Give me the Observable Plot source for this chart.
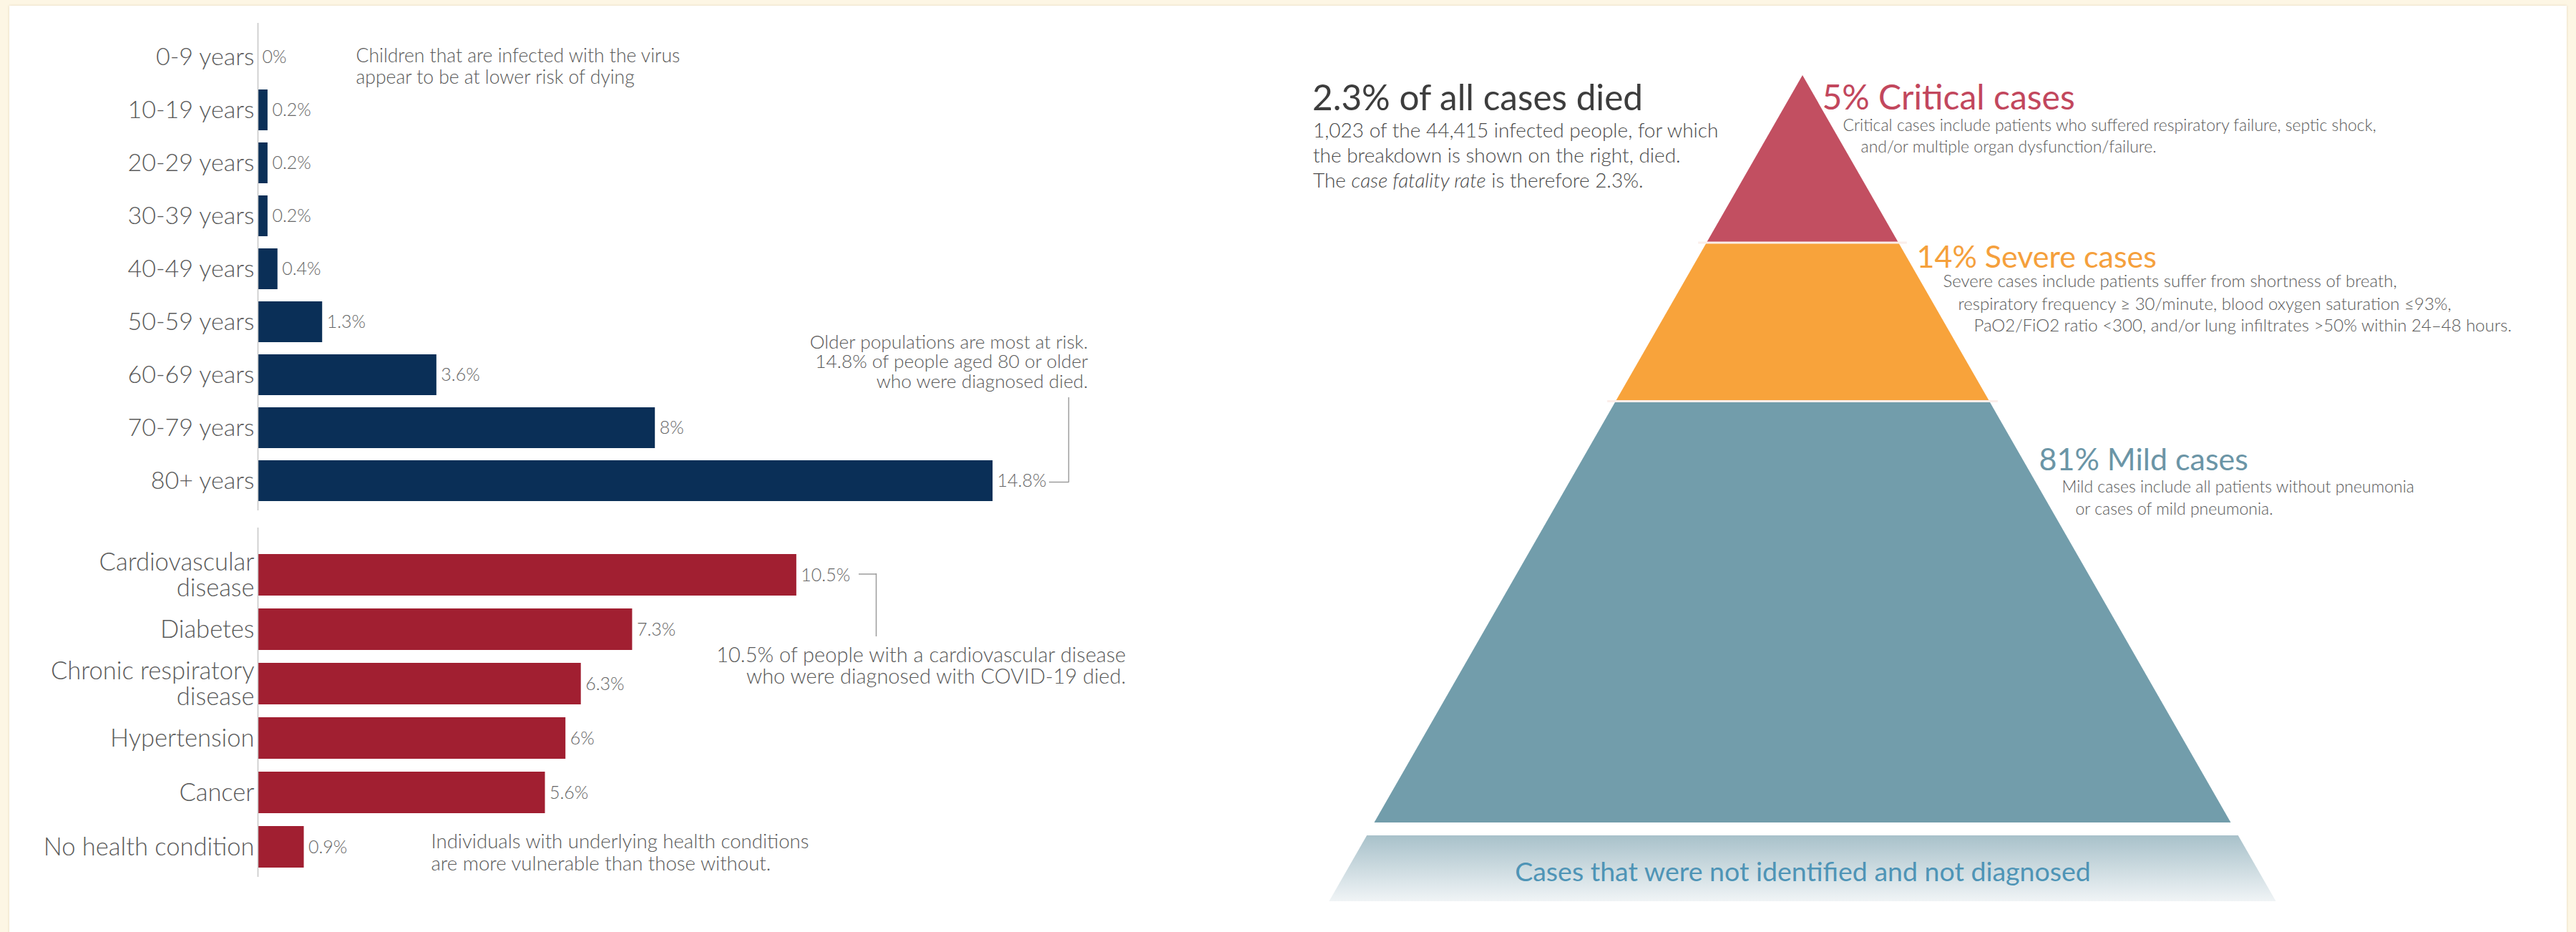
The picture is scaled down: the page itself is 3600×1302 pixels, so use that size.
<!DOCTYPE html>
<html>
<head>
<meta charset="utf-8">
<script src="https://cdn.jsdelivr.net/npm/d3@7"></script>
<script src="https://cdn.jsdelivr.net/npm/@observablehq/plot@0.6"></script>
<style>
html, body { margin: 0; padding: 0; }
body { width: 3600px; height: 1302px; background: #fdf6e4; position: relative; overflow: hidden; font-family: Lato, "Open Sans", sans-serif; }
#panel { position: absolute; left: 13px; top: 8px; width: 3574px; height: 1320px; background: #ffffff; box-shadow: 0 0 3px rgba(150,120,60,0.25); }
.layer { position: absolute; }
.layer svg { display: block; overflow: visible; max-width: none; }
#headline { position: absolute; left: 1834px; top: 106px; font-size: 49.5px; line-height: 59.4px; color: #3d3d3d; white-space: nowrap; }
#lede { position: absolute; left: 1835px; top: 164px; font-size: 28px; line-height: 35px; color: #4a4a4a; font-weight: 300; white-space: nowrap; }
</style>
</head>
<body>
<div id="panel"></div>
<div id="ages" class="layer" style="left:0;top:0"></div>
<div id="conds" class="layer" style="left:0;top:700px"></div>
<div id="pyramid" class="layer" style="left:1800px;top:0"></div>
<div id="notes" class="layer" style="left:0;top:0"></div>
<div id="headline"></div>
<div id="lede"></div>
<script>
// ---------------- DATA ----------------
const ageGroups = ["0-9 years", "10-19 years", "20-29 years", "30-39 years", "40-49 years", "50-59 years", "60-69 years", "70-79 years", "80+ years"];
const ageFatality = [0, 0.2, 0.2, 0.2, 0.4, 1.3, 3.6, 8, 14.8];

const conditions = ["Cardiovascular disease", "Diabetes", "Chronic respiratory disease", "Hypertension", "Cancer", "No health condition"];
const conditionFatality = [10.5, 7.3, 6.3, 6, 5.6, 0.9];

const severityLevels = ["Critical", "Severe", "Mild"];
const severityShares = [5, 14, 81];
const severityNotes = [
  ["Critical cases include patients who suffered respiratory failure, septic shock,",
   "and/or multiple organ dysfunction/failure."],
  ["Severe cases include patients suffer from shortness of breath,",
   "respiratory frequency \u2265 30/minute, blood oxygen saturation \u226493%,",
   "PaO2/FiO2 ratio <300, and/or lung infiltrates >50% within 24\u201348 hours."],
  ["Mild cases include all patients without pneumonia",
   "or cases of mild pneumonia."]
];
const undiagnosedLabel = "Cases that were not identified and not diagnosed";
const totalDeaths = 1023;
const totalInfected = 44415;

const annotationTexts = [
  "Children that are infected with the virus\nappear to be at lower risk of dying",
  "Older populations are most at risk.\n14.8% of people aged 80 or older\nwho were diagnosed died.",
  "10.5% of people with a cardiovascular disease\nwho were diagnosed with COVID-19 died.",
  "Individuals with underlying health conditions\nare more vulnerable than those without."
];

// ---------------- STYLE / LAYOUT ----------------
const FONT = "Lato, 'Open Sans', sans-serif";
const labelColor = "#5a5a5a";
const valueColor = "#666666";
const noteColor = "#595959";
const ageColor = "#0a2f57";
const condColor = "#a11f31";
const tierFill = ["#c24f61", "#f8a33b", "#729dab"];
const tierText = ["#c2475d", "#f5a03c", "#6b95a6"];
const tierTitleSize = [48, 43, 43];
const tierNoteSize = [23, 24, 23];
const axisX = 360;

const noteLayout = [
  {x: 497, y: 92, anchor: "start", size: 26.5, lh: 1.13},
  {x: 1520, y: 505, anchor: "end", size: 26.3, lh: 1.05},
  {x: 1573, y: 930, anchor: "end", size: 29, lh: 1.04},
  {x: 602, y: 1190.5, anchor: "start", size: 27.6, lh: 1.12}
];
const bracketsV = [{x: 1493, y1: 555, y2: 673.7}, {x: 1224, y1: 801, y2: 889}];
const bracketsH = [{y: 673, x1: 1466, x2: 1493.7}, {y: 801.5, x1: 1200, x2: 1224.7}];

const apex = {x: 2519, y: 105};
const baseY = 1149, baseHalf = 598.5;
const pyrLeft = 1800, pyrWidth = 1800;
const undiagBand = [1.0172, 1.1054];
const tierTitlePos = [{x: 2546, y: 137}, {x: 2678, y: 360}, {x: 2849, y: 643}];
const tierNotePos = [
  [{x: 2575, y: 175}, {x: 2600, y: 205}],
  [{x: 2715, y: 393}, {x: 2736, y: 425}, {x: 2758, y: 455}],
  [{x: 2881, y: 680}, {x: 2900, y: 711}]
];

// ---------------- BAR CHARTS ----------------
const fmtPct = v => `${v}%`;
const wrapLabel = s => s.replace(/ disease$/, "\ndisease");

function barChart(rows, domain, o) {
  return Plot.plot({
    width: 1600,
    height: o.height,
    marginLeft: axisX,
    marginRight: 1600 - axisX - o.xSpan,
    marginTop: o.frameTop,
    marginBottom: o.height - o.frameBottom,
    x: {domain: [0, o.xMax], range: [axisX, axisX + o.xSpan], axis: null},
    y: {domain, range: o.bandRange, padding: o.padding, axis: null},
    style: {fontFamily: FONT, background: "transparent", overflow: "visible"},
    marks: [
      Plot.barX(rows, {x: "rate", y: "group", fill: o.color}),
      Plot.ruleX([0], {stroke: "#c6c6c6", strokeWidth: 1.5}),
      Plot.text(rows, {x: d => 0, y: "group", text: d => wrapLabel(d.group), textAnchor: "end", dx: -5, fontSize: o.labelSize, fill: labelColor, fontWeight: 300, lineHeight: 1.04}),
      Plot.text(rows, {x: "rate", y: "group", text: d => fmtPct(d.rate), textAnchor: "start", dx: 6, fontSize: 25, fill: valueColor, fontWeight: 300})
    ]
  });
}

const ageRows = ageGroups.map((group, i) => ({group, rate: ageFatality[i]}));
const condRows = conditions.map((group, i) => ({group, rate: conditionFatality[i]}));

document.getElementById("ages").append(barChart(ageRows, ageGroups, {
  height: 720, frameTop: 32, frameBottom: 713, bandRange: [32, 718], padding: 0.232,
  xMax: 15, xSpan: 15 * 69.4, color: ageColor, labelSize: 34
}));
document.getElementById("conds").append(barChart(condRows, conditions, {
  height: 540, frameTop: 37, frameBottom: 525, bandRange: [53, 532], padding: 0.243,
  xMax: 15, xSpan: 15 * 71.7, color: condColor, labelSize: 34.5
}));

// ---------------- PYRAMID (area-proportional) ----------------
let cum = 0;
const tiers = severityLevels.map((level, i) => {
  const top = Math.sqrt(cum / 100);
  cum += severityShares[i];
  return {level, share: severityShares[i], top, bottom: Math.sqrt(cum / 100), color: tierFill[i]};
});

const xr = [apex.x - baseHalf - pyrLeft, apex.x + baseHalf - pyrLeft];
const pyr = Plot.plot({
  width: pyrWidth,
  height: 1302,
  marginLeft: xr[0],
  marginRight: pyrWidth - xr[1],
  marginTop: apex.y,
  marginBottom: 1302 - baseY,
  x: {domain: [-1, 1], range: xr, axis: null},
  y: {domain: [0, 1], range: [apex.y, baseY], axis: null},
  style: {fontFamily: FONT, background: "transparent", overflow: "visible"},
  marks: [
    ...tiers.map(t => Plot.areaX([t.top, t.bottom], {y: d => d, x1: d => -d, x2: d => d, fill: t.color})),
    Plot.ruleY(tiers.slice(1), {y: "top", x1: d => -d.top - 0.02, x2: d => d.top + 0.02, stroke: "#fbeeea", strokeWidth: 3}),
    Plot.areaX(undiagBand, {y: d => d, x1: d => -d, x2: d => d, fill: "url(#undiagGrad)"}),
    Plot.text([undiagnosedLabel], {x: d => 0, y: d => (undiagBand[0] + undiagBand[1]) / 2, text: d => d, fontSize: 37.5, fill: "#4e94b6", dy: 6})
  ]
});
const grad = d3.select(pyr).insert("defs", ":first-child")
  .append("linearGradient").attr("id", "undiagGrad")
  .attr("x1", 0).attr("y1", 0).attr("x2", 0).attr("y2", 1);
grad.append("stop").attr("offset", "0%").attr("stop-color", "#a8c1ca");
grad.append("stop").attr("offset", "100%").attr("stop-color", "#f0f4f6");
document.getElementById("pyramid").append(pyr);

// ---------------- ANNOTATIONS ----------------
const noteRows = annotationTexts.map((text, i) => ({...noteLayout[i], text, color: noteColor}));
const tierRows = [];
tiers.forEach((t, i) => {
  tierRows.push({...tierTitlePos[i], text: `${t.share}% ${t.level} cases`, size: tierTitleSize[i], color: tierText[i], title: true});
  severityNotes[i].forEach((line, j) => tierRows.push({...tierNotePos[i][j], text: line, size: tierNoteSize[i], color: noteColor}));
});

const textMarks = [];
noteRows.forEach(r => textMarks.push(
  Plot.text([r], {x: "x", y: "y", text: "text", fontSize: r.size, fill: r.color, textAnchor: r.anchor, lineHeight: r.lh, fontWeight: 300})
));
textMarks.push(Plot.text(tierRows.filter(d => d.title), {x: "x", y: "y", text: "text", fontSize: "size", fill: "color", textAnchor: "start"}));
textMarks.push(Plot.text(tierRows.filter(d => !d.title), {x: "x", y: "y", text: "text", fontSize: "size", fill: "color", textAnchor: "start", fontWeight: 300}));

const notes = Plot.plot({
  width: 3600,
  height: 1302,
  margin: 0,
  x: {type: "identity", axis: null},
  y: {type: "identity", axis: null},
  color: {type: "identity"},
  style: {fontFamily: FONT, background: "transparent", overflow: "visible"},
  marks: [
    Plot.ruleX(bracketsV, {x: "x", y1: "y1", y2: "y2", stroke: "#9c9c9c", strokeWidth: 1.5}),
    Plot.ruleY(bracketsH, {y: "y", x1: "x1", x2: "x2", stroke: "#9c9c9c", strokeWidth: 1.5}),
    ...textMarks
  ]
});
document.getElementById("notes").append(notes);

// ---------------- HEADLINE ----------------
const fmtInt = d3.format(",");
const cfr = d3.format(".1f")(totalDeaths / totalInfected * 100);
document.getElementById("headline").textContent = `${cfr}% of all cases died`;
document.getElementById("lede").innerHTML =
  `${fmtInt(totalDeaths)} of the ${fmtInt(totalInfected)} infected people, for which<br>` +
  `the breakdown is shown on the right, died.<br>` +
  `The <i>case fatality rate</i> is therefore ${cfr}%.`;
</script>
</body>
</html>
